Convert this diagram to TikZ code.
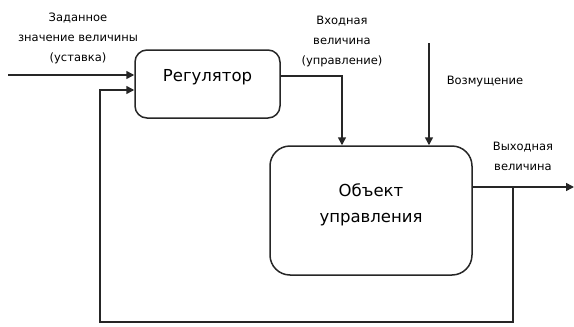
\documentclass[tikz,border=0pt]{standalone}
\usepackage{fontspec}
\setmainfont{DejaVu Sans}
\usetikzlibrary{arrows.meta}
\begin{document}
\begin{tikzpicture}[x=1pt,y=-1pt,
  blockbox/.style={draw=black!85,line width=1.5pt,fill=white,inner sep=0pt},
  conn/.style={draw=black!85,line width=1.5pt},
  arr/.style={conn,-{Triangle[length=8pt,width=8pt]}},
  boxtext/.style={font=\fontsize{16.5}{26}\selectfont,align=center,inner sep=0pt},
  lbl/.style={font=\fontsize{11.5}{20}\selectfont,align=center,inner sep=0pt}]
\useasboundingbox (0,0) rectangle (574,327);
\node[blockbox,rounded corners=12pt,minimum width=145pt,minimum height=68pt] (reg) at (207.5,84) {};
\node[boxtext] (regt) at (207.5,77) {Регулятор};
\node[blockbox,rounded corners=20pt,minimum width=202pt,minimum height=129pt] (obj) at (371,210.5) {};
\node[boxtext] (objt) at (371,205) {Объект\\управления};
\coordinate (in) at (8,75);
\coordinate (ctl) at (342,76);
\coordinate (dist) at (429,43);
\coordinate (out) at (574,187);
\coordinate (fb) at (513,187);
\coordinate (fbb) at (513,322);
\coordinate (fbl) at (100,322);
\coordinate (fbt) at (100,90);
\draw[arr] (in) -- (in -| reg.west);
\draw[arr] (ctl -| reg.east) -- (ctl) -- (ctl |- obj.north);
\draw[arr] (dist) -- (dist |- obj.north);
\draw[arr] (out -| obj.east) -- (out);
\draw[arr] (fb) -- (fbb) -- (fbl) -- (fbt) -- (fbt -| reg.west);
\node[lbl] (l1) at (78,38) {Заданное\\значение величины\\(уставка)};
\node[lbl] (l2) at (342,42) {Входная\\величина\\(управление)};
\node[lbl] (l3) at (485,82) {Возмущение};
\node[lbl] (l4) at (523,156) {Выходная\\величина};
\end{tikzpicture}
\end{document}
